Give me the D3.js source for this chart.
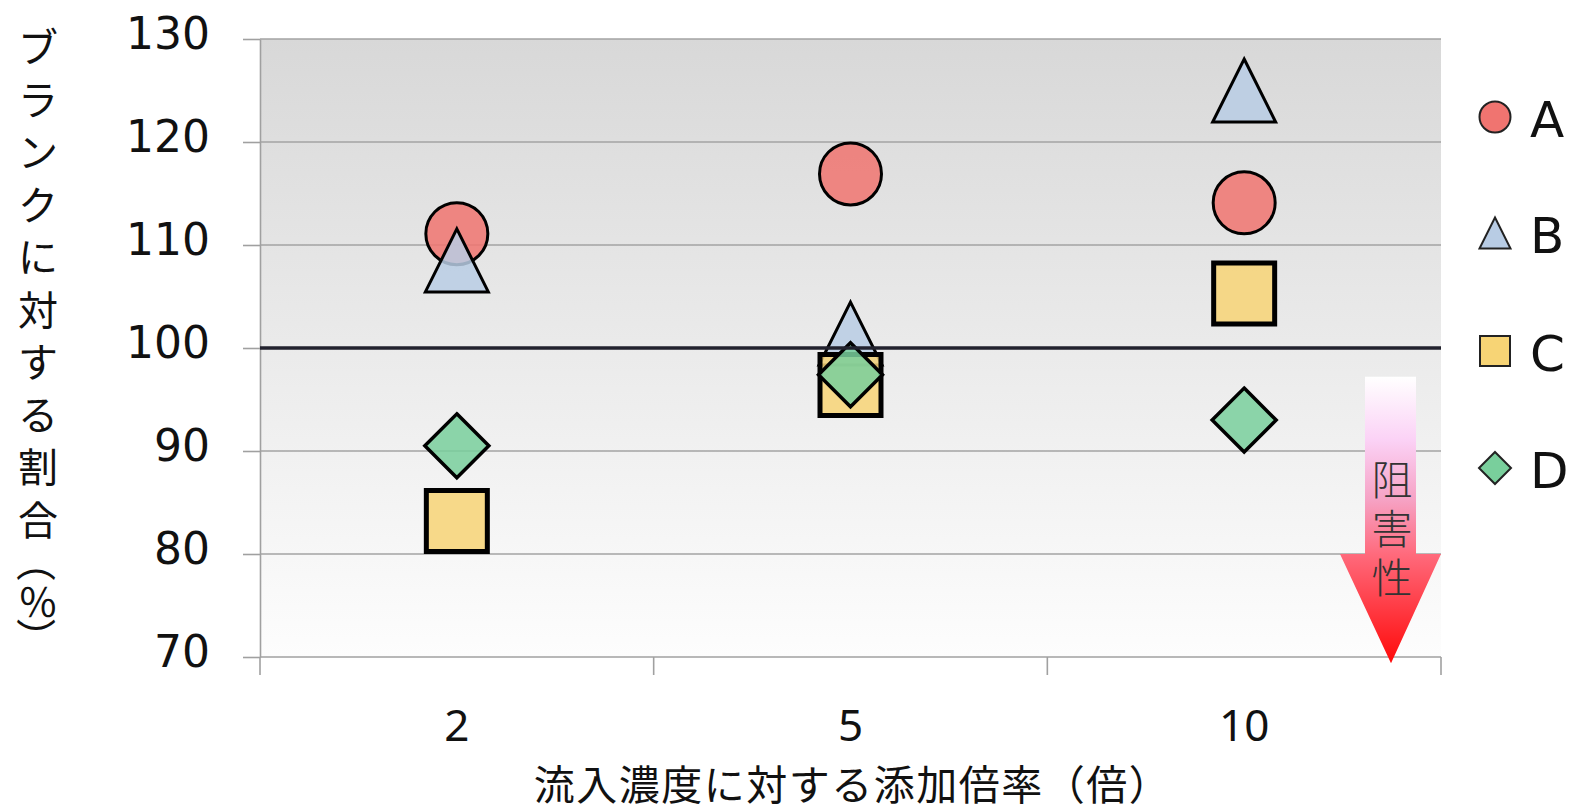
<!DOCTYPE html>
<html><head><meta charset="utf-8">
<script src="https://cdn.jsdelivr.net/npm/d3@7"></script>
<style>body{margin:0;background:#fff}svg{display:block}</style>
</head><body>
<script>
const categories = ["2", "5", "10"];
const seriesNames = ["A", "B", "C", "D"];
const valuesA = [111.1, 116.9, 114.1];
const valuesB = [108.5, 101.4, 125.0];
const valuesC = [83.2, 96.4, 105.3];
const valuesD = [90.5, 97.4, 93.0];
const yTicks = [70, 80, 90, 100, 110, 120, 130];
const refValue = 100;
const yTitle = ["ブ","ラ","ン","ク","に","対","す","る","割","合","（","％","）"];
const xTitle = "流入濃度に対する添加倍率（倍）";
const arrowText = "阻害性";

(function(){
const W = 1572, H = 812;
const svg = d3.select("body").append("svg").attr("width", W).attr("height", H);
const defs = svg.append("defs");
const pLeft = 260, pRight = 1441, pTop = 39, pBottom = 657;

const x = d3.scaleBand().domain(categories).range([pLeft, pRight]).padding(0);
const y = d3.scaleLinear().domain([70, 130]).range([pBottom, pTop]);

// background gradient
const bg = defs.append("linearGradient").attr("id","bg").attr("x1",0).attr("y1",0).attr("x2",0).attr("y2",1);
bg.append("stop").attr("offset","0%").attr("stop-color","#d8d8d8");
bg.append("stop").attr("offset","100%").attr("stop-color","#fdfdfd");
svg.append("rect").attr("x",pLeft).attr("y",y(130)).attr("width",pRight-pLeft).attr("height",y(70)-y(130)).attr("fill","url(#bg)");

// gridlines
svg.append("g").selectAll("line").data(yTicks.filter(d=>d!==70 && d!==refValue)).join("line")
  .attr("x1",pLeft).attr("x2",pRight).attr("y1",d=>y(d)).attr("y2",d=>y(d))
  .attr("stroke","#a3a3a3").attr("stroke-width",1.6);

// y axis
const yAxis = svg.append("g").attr("transform",`translate(${pLeft},0)`)
  .call(d3.axisLeft(y).tickValues(yTicks).tickSize(17).tickPadding(33).tickSizeOuter(0));
yAxis.select(".domain").attr("stroke","#a0a0a0").attr("stroke-width",1.6);
yAxis.selectAll(".tick line").attr("stroke","#a0a0a0").attr("stroke-width",1.6);
yAxis.selectAll("text").attr("font-family","DejaVu Sans, Verdana, sans-serif").attr("font-size",44)
  .attr("fill","#111").attr("dy","0.22em");

// x axis (labels)
const xAxis = svg.append("g").attr("transform",`translate(0,${pBottom})`)
  .call(d3.axisBottom(x).tickSize(0).tickPadding(53).tickSizeOuter(0));
xAxis.select(".domain").remove();
xAxis.selectAll("text").attr("font-family","'Noto Sans', 'Open Sans', sans-serif").attr("font-size",44).attr("fill","#111");
svg.append("line").attr("x1",pLeft).attr("x2",pRight).attr("y1",y(70)).attr("y2",y(70)).attr("stroke","#a0a0a0").attr("stroke-width",1.6);
const bounds = categories.map(c=>x(c)).concat([x.range()[1]]);
svg.append("g").selectAll("line").data(bounds).join("line")
  .attr("x1",d=>d).attr("x2",d=>d).attr("y1",y(70)).attr("y2",y(70)+18)
  .attr("stroke","#a0a0a0").attr("stroke-width",1.6);

// arrow
const ag = defs.append("linearGradient").attr("id","arrowGrad").attr("gradientUnits","userSpaceOnUse")
  .attr("x1",0).attr("y1",y(97.2)).attr("x2",0).attr("y2",y(69.4));
ag.append("stop").attr("offset","0%").attr("stop-color","#ffffff");
ag.append("stop").attr("offset","22%").attr("stop-color","#fbd2f6");
ag.append("stop").attr("offset","43%").attr("stop-color","#f6a2c4");
ag.append("stop").attr("offset","62%").attr("stop-color","#ff6a7c");
ag.append("stop").attr("offset","100%").attr("stop-color","#ff0a0a");
const ax = 1391;
const shaftTop = y(97.2), headTop = y(80), tip = y(69.4);
svg.append("path")
  .attr("d",`M${ax-26},${shaftTop}L${ax+25},${shaftTop}L${ax+25},${headTop}L${ax+50},${headTop}L${ax},${tip}L${ax-51},${headTop}L${ax-26},${headTop}Z`)
  .attr("fill","url(#arrowGrad)");
svg.append("text")
  .attr("x",ax+1).attr("y",y(89.2))
  .attr("writing-mode","vertical-rl").style("writing-mode","vertical-rl")
  .attr("letter-spacing",8)
  .attr("font-family","'Noto Sans CJK JP', sans-serif")
  .attr("font-size",41).attr("font-weight",300).attr("fill","#333").text(arrowText);

// marker shapes
function circlePath(s){const r=s/2;return `M${r},0A${r},${r} 0 1,1 ${-r},0A${r},${r} 0 1,1 ${r},0Z`;}
function triPath(s){const h=s/2;return `M0,${-h}L${h},${h}L${-h},${h}Z`;}
function squarePath(s){const h=s/2;return `M${-h},${-h}L${h},${-h}L${h},${h}L${-h},${h}Z`;}
function diamondPath(s){const h=s/2;return `M0,${-h}L${h},0L0,${h}L${-h},0Z`;}

const series = [
  {name:seriesNames[0], values:valuesA, shape:circlePath, size:62, fill:"#f07470", sw:3, ls:31},
  {name:seriesNames[1], values:valuesB, shape:triPath, size:63, fill:"#b8cce4", sw:3, ls:31},
  {name:seriesNames[2], values:valuesC, shape:squarePath, size:61, fill:"#f7d475", sw:5, ls:30},
  {name:seriesNames[3], values:valuesD, shape:diamondPath, size:64, fill:"#79cf9c", sw:3.5, ls:32}
];

const mg = svg.append("g");
series.forEach(s=>{
  mg.append("g").selectAll("path").data(s.values).join("path")
    .attr("transform",(d,i)=>`translate(${x(categories[i])+x.bandwidth()/2},${y(d)})`)
    .attr("d",s.shape(s.size))
    .attr("fill",s.fill).attr("fill-opacity",0.85)
    .attr("stroke","#000").attr("stroke-width",s.sw).attr("stroke-linejoin","miter");
});

// reference line
svg.append("line").attr("x1",pLeft).attr("x2",pRight).attr("y1",y(refValue)).attr("y2",y(refValue))
  .attr("stroke","#22222e").attr("stroke-width",3.5);

// legend
const legendY = [117, 233, 351, 468];
const lg = svg.append("g");
series.forEach((s,i)=>{
  lg.append("path").attr("transform",`translate(1495,${legendY[i]})`).attr("d",s.shape(s.ls))
    .attr("fill",s.fill).attr("stroke","#222").attr("stroke-width",2);
  lg.append("text").attr("x",1530).attr("y",legendY[i]+10).attr("dy","0.2em")
    .attr("font-family","DejaVu Sans, Verdana, sans-serif").attr("font-size",50).attr("fill","#111").text(s.name);
});

// y title (vertical)
const advances = yTitle.map(c=>("（）".includes(c)?36:"％"===c?40:52.5));
let pos = 45;
const yt = svg.append("g");
yTitle.forEach((c,i)=>{
  const t = yt.append("text").attr("text-anchor","middle").attr("font-family","'Noto Sans CJK JP', sans-serif")
    .attr("font-size",40).attr("fill","#111").attr("dominant-baseline","central").text(c);
  if ("（）".includes(c)) t.attr("transform",`translate(38,${pos}) rotate(90)`);
  else t.attr("transform",`translate(38,${pos})`);
  if (i < yTitle.length-1) pos += (advances[i]+advances[i+1])/2;
});

// x title
svg.append("text").attr("x",(pLeft+pRight)/2+2).attr("y",800).attr("text-anchor","middle")
  .attr("letter-spacing",1.5)
  .attr("font-family","'Noto Sans CJK JP', sans-serif").attr("font-size",41).attr("fill","#111").text(xTitle);
})();
</script>
</body></html>
